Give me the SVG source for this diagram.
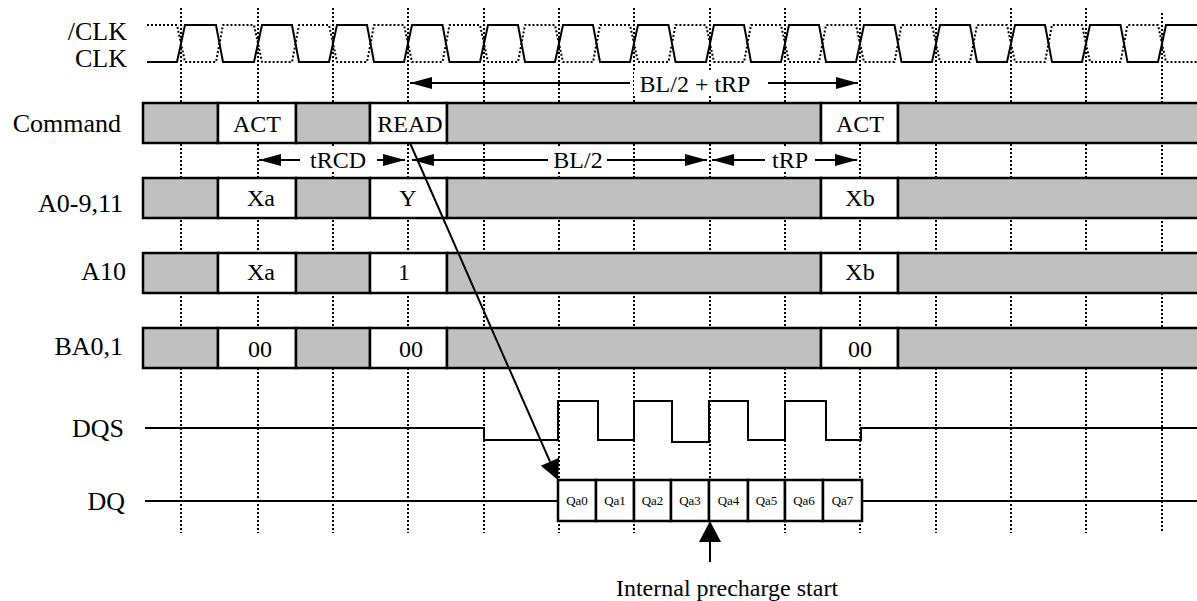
<svg xmlns="http://www.w3.org/2000/svg" width="1197" height="601" viewBox="0 0 1197 601">
<style>
text{font-family:"Liberation Serif","Times New Roman",serif;fill:#000}
.lbl{font-size:26px;text-anchor:end}
.bx{font-size:24px;text-anchor:middle}
.al{font-size:24px;text-anchor:middle}
.q{font-size:13px;text-anchor:middle}
.grid{stroke:#000;stroke-width:2;stroke-dasharray:2 2;fill:none}
.g{fill:#c0c0c0;stroke:#000;stroke-width:2.5}
.w{fill:#fff;stroke:#000;stroke-width:2.5}
.ln{stroke:#000;stroke-width:2;fill:none}
.mask{fill:#fff;stroke:none}
</style>
<defs>
<marker id="ah" viewBox="0 0 22 12" refX="22" refY="6" markerWidth="22" markerHeight="12" markerUnits="userSpaceOnUse" orient="auto">
<path d="M0,0 L22,6 L0,12 z" fill="#000"/>
</marker>
</defs>
<rect width="1197" height="601" fill="#fff"/>
<g id="grid" class="grid">
<path d="M181,8V533M258,8V533M333,8V533M408,8V533M484,8V533M559,8V533M634,8V533M710,8V533M785,8V533M860,8V533M936,8V533M1011,8V533M1086,8V533M1162,13V533"/>
</g>
<g id="labels">
<text class="lbl" x="127" y="40">/CLK</text>
<text class="lbl" x="127" y="67">CLK</text>
<text class="lbl" x="121" y="132">Command</text>
<text class="lbl" x="123" y="212">A0-9,11</text>
<text class="lbl" x="126" y="280">A10</text>
<text class="lbl" x="123" y="355">BA0,1</text>
<text class="lbl" x="124" y="437">DQS</text>
<text class="lbl" x="125" y="510">DQ</text>
</g>
<g id="clk">
<path class="ln" d="M147,62 H177 L185,25 H216 L223,62 H254 L262,25 H292 L299,62 H329 L337,25 H367 L374,62 H404 L412,25 H442.5 L449.5,62 H480 L488,25 H518 L525,62 H555 L563,25 H593 L600,62 H630 L638,25 H668.5 L675.5,62 H706 L714,25 H744 L751,62 H781 L789,25 H819 L826,62 H856 L864,25 H894.5 L901.5,62 H932 L940,25 H970 L977,62 H1007 L1015,25 H1045 L1052,62 H1082 L1090,25 H1120.5 L1127.5,62 H1158 L1166,25 H1197"/>
</g>
<g id="nclk">
<path class="grid" stroke-linejoin="round" d="M147,25 H177 L185,62 H216 L223,25 H254 L262,62 H292 L299,25 H329 L337,62 H367 L374,25 H404 L412,62 H442.5 L449.5,25 H480 L488,62 H518 L525,25 H555 L563,62 H593 L600,25 H630 L638,62 H668.5 L675.5,25 H706 L714,62 H744 L751,25 H781 L789,62 H819 L826,25 H856 L864,62 H894.5 L901.5,25 H932 L940,62 H970 L977,25 H1007 L1015,62 H1045 L1052,25 H1082 L1090,62 H1120.5 L1127.5,25 H1158 L1166,62 H1197"/>
</g>
<g id="row-command">
<rect class="g" x="143" y="103" width="75" height="40"/>
<rect class="w" x="218" y="103" width="78" height="40"/>
<rect class="g" x="296" y="103" width="74" height="40"/>
<rect class="w" x="370" y="103" width="77" height="40"/>
<rect class="g" x="447" y="103" width="374" height="40"/>
<rect class="w" x="821" y="103" width="77" height="40"/>
<rect class="g" x="898" y="103" width="305" height="40"/>
<text class="bx" x="257" y="132">ACT</text>
<text class="bx" x="410" y="132">READ</text>
<text class="bx" x="860" y="132">ACT</text>
</g>
<g id="row-addr">
<rect class="g" x="143" y="178" width="75" height="40"/>
<rect class="w" x="218" y="178" width="78" height="40"/>
<rect class="g" x="296" y="178" width="74" height="40"/>
<rect class="w" x="370" y="178" width="77" height="40"/>
<rect class="g" x="447" y="178" width="374" height="40"/>
<rect class="w" x="821" y="178" width="77" height="40"/>
<rect class="g" x="898" y="178" width="305" height="40"/>
<text class="bx" x="261" y="206">Xa</text>
<text class="bx" x="408" y="206">Y</text>
<text class="bx" x="860" y="206">Xb</text>
</g>
<g id="row-a10">
<rect class="g" x="143" y="253" width="75" height="40"/>
<rect class="w" x="218" y="253" width="78" height="40"/>
<rect class="g" x="296" y="253" width="74" height="40"/>
<rect class="w" x="370" y="253" width="77" height="40"/>
<rect class="g" x="447" y="253" width="374" height="40"/>
<rect class="w" x="821" y="253" width="77" height="40"/>
<rect class="g" x="898" y="253" width="305" height="40"/>
<text class="bx" x="261" y="280">Xa</text>
<text class="bx" x="404" y="280">1</text>
<text class="bx" x="860" y="280">Xb</text>
</g>
<g id="row-ba">
<rect class="g" x="143" y="328" width="75" height="40"/>
<rect class="w" x="218" y="328" width="78" height="40"/>
<rect class="g" x="296" y="328" width="74" height="40"/>
<rect class="w" x="370" y="328" width="77" height="40"/>
<rect class="g" x="447" y="328" width="374" height="40"/>
<rect class="w" x="821" y="328" width="77" height="40"/>
<rect class="g" x="898" y="328" width="305" height="40"/>
<text class="bx" x="260" y="357">00</text>
<text class="bx" x="411" y="357">00</text>
<text class="bx" x="860" y="357">00</text>
</g>
<g id="dqs">
<path class="ln" stroke-width="2.5" d="M145,428 H484 V440 H558 V401 H598 V440 H634 V401 H672 V442 H709 V401 H748 V440 H785 V401 H826 V440 H861 V428 H1197"/>
</g>
<g id="dq">
<path class="ln" stroke-width="2.5" d="M145,501 H558 M862,501 H1197"/>
<rect class="w" x="558" y="480" width="38" height="41"/>
<rect class="w" x="596" y="480" width="38" height="41"/>
<rect class="w" x="634" y="480" width="37" height="41"/>
<rect class="w" x="671" y="480" width="38" height="41"/>
<rect class="w" x="709" y="480" width="39" height="41"/>
<rect class="w" x="748" y="480" width="37" height="41"/>
<rect class="w" x="785" y="480" width="38" height="41"/>
<rect class="w" x="823" y="480" width="39" height="41"/>
<text class="q" x="577" y="505">Qa0</text>
<text class="q" x="615" y="505">Qa1</text>
<text class="q" x="652.5" y="505">Qa2</text>
<text class="q" x="690" y="505">Qa3</text>
<text class="q" x="728.5" y="505">Qa4</text>
<text class="q" x="766.5" y="505">Qa5</text>
<text class="q" x="804" y="505">Qa6</text>
<text class="q" x="842.5" y="505">Qa7</text>
</g>
<g id="connectors">
<rect class="mask" x="634" y="71" width="124" height="25"/>
<path class="ln" marker-end="url(#ah)" d="M630,83 H410"/>
<path class="ln" marker-end="url(#ah)" d="M768,83 H858"/>
<text class="al" x="695" y="92">BL/2 + tRP</text>
<rect class="mask" x="302" y="148" width="72" height="24"/>
<path class="ln" marker-end="url(#ah)" d="M300,160 H259"/>
<path class="ln" marker-end="url(#ah)" d="M377,160 H405"/>
<text class="al" x="338" y="168">tRCD</text>
<rect class="mask" x="550" y="148" width="56" height="24"/>
<path class="ln" marker-end="url(#ah)" d="M548,160 H412"/>
<path class="ln" marker-end="url(#ah)" d="M607,160 H707"/>
<text class="al" x="578" y="168">BL/2</text>
<rect class="mask" x="768" y="148" width="44" height="24"/>
<path class="ln" marker-end="url(#ah)" d="M765,160 H712"/>
<path class="ln" marker-end="url(#ah)" d="M815,160 H857"/>
<text class="al" x="790" y="168">tRP</text>
<path class="ln" d="M410,143 L550,461.7"/>
<polygon points="558,480 559.1,457.7 540.8,465.7" fill="#000"/>
<path class="ln" stroke-width="2.5" d="M710,540 V562"/>
<polygon points="710,521 699,542 721,542" fill="#000"/>
<text class="al" x="727" y="596">Internal precharge start</text>
</g>
</svg>
